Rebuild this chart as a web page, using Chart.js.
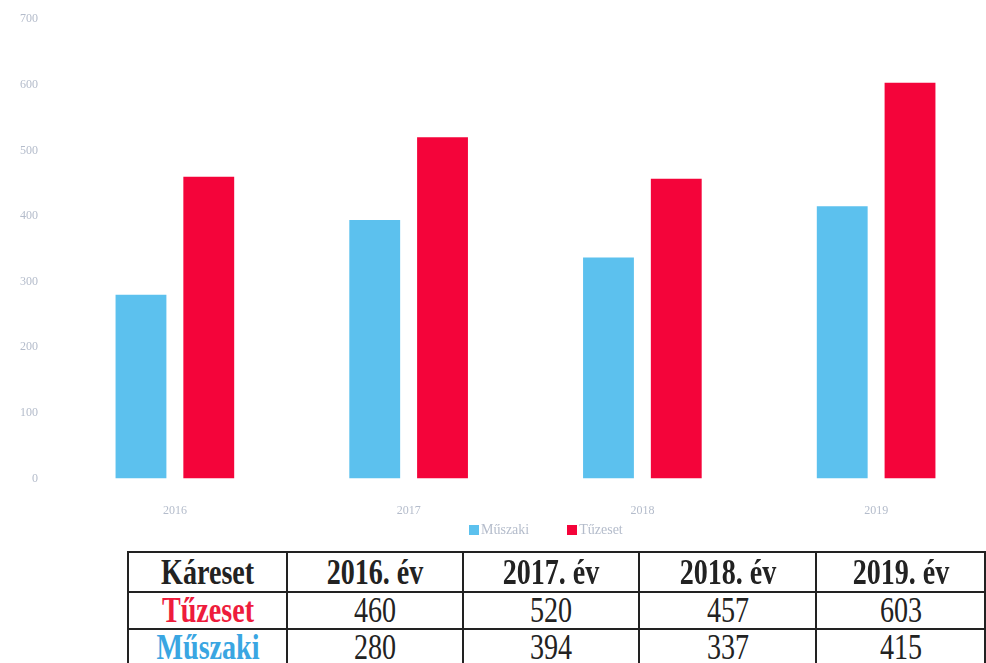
<!DOCTYPE html>
<html>
<head>
<meta charset="utf-8">
<script src="https://cdn.jsdelivr.net/npm/chart.js@4.4.0/dist/chart.umd.min.js"></script>
<style>
    html, body { margin: 0; background: #fff; width: 986px; height: 663px; overflow: hidden; }
    body { position: relative; }
    #chartBox { position: absolute; left: 0; top: 0; width: 993px; height: 535px; }
    #legend { position: absolute; top: 522px; left: 469px; font-family: "Liberation Serif", serif; font-size: 14px; color: #b4bccb; white-space: nowrap; }
    #legend span.item { margin-right: 38px; }
    #legend span.box { display: inline-block; width: 10px; height: 10px; margin-right: 2px; vertical-align: -1px; }
    table { position: absolute; left: 127px; top: 551px; border-collapse: collapse; font-family: "Liberation Serif", serif; }
    td { border: 2px solid #222; height: 35px; padding: 0; text-align: center; font-size: 36px; color: #222; line-height: 33px; overflow: hidden; }
    td span { display: inline-block; transform: scaleX(0.78); }
    tr.head td { font-weight: bold; height: 38px; }
    td.rowhead { font-weight: bold; }
</style>
</head>
<body>
<div id="chartBox"><canvas id="barChart"></canvas></div>
<div id="legend"></div>
<table id="dataTable"></table>
<script>
const years = ['2016', '2017', '2018', '2019'];
const muszaki = [280, 394, 337, 415];
const tuzeset = [460, 520, 457, 603];
const yTicks = [0, 100, 200, 300, 400, 500, 600, 700];

const blue = '#5cc1ee';
const red = '#f4043a';

function buildLegend(chart) {
    const el = document.getElementById('legend');
    el.innerHTML = chart.data.datasets.map(ds =>
        '<span class="item"><span class="box" style="background:' + ds.backgroundColor + '"></span>' + ds.label + '</span>'
    ).join('');
}

function cell(text) {
    return '<td><span>' + text + '</span></td>';
}

function buildTable() {
    const t = document.getElementById('dataTable');
    const widths = [158, 177, 178, 178, 170];
    let html = '<tr class="head"><td style="width:' + widths[0] + 'px"><span>Káreset</span></td>';
    years.forEach((y, i) => { html += '<td style="width:' + widths[i + 1] + 'px"><span>' + y + '. év</span></td>'; });
    html += '</tr><tr><td class="rowhead" style="color:#ee1c3c"><span>Tűzeset</span></td>';
    tuzeset.forEach(v => { html += cell(v); });
    html += '</tr><tr><td class="rowhead" style="color:#3aa6e2"><span>Műszaki</span></td>';
    muszaki.forEach(v => { html += cell(v); });
    html += '</tr>';
    t.innerHTML = html;
}

const ctx = document.getElementById('barChart').getContext('2d');
const chart = new Chart(ctx, {
    type: 'bar',
    data: {
        labels: years,
        datasets: [{
            label: 'Műszaki',
            data: muszaki,
            backgroundColor: blue
        }, {
            label: 'Tűzeset',
            data: tuzeset,
            backgroundColor: red
        }]
    },
    options: {
        responsive: true,
        maintainAspectRatio: false,
        animation: false,
        categoryPercentage: 0.58,
        barPercentage: 0.75,
        layout: { padding: { left: 8, top: 6, right: 0, bottom: 0 } },
        plugins: {
            legend: { display: false },
            tooltip: { enabled: false }
        },
        scales: {
            x: {
                grid: { display: false },
                border: { display: false },
                ticks: {
                    color: '#b4bccb',
                    font: { family: 'Liberation Serif', size: 12 },
                    padding: 17
                }
            },
            y: {
                min: 0,
                max: 700,
                afterBuildTicks: axis => { axis.ticks = yTicks.map(v => ({ value: v })); },
                grid: { display: false },
                border: { display: false },
                ticks: {
                    color: '#b4bccb',
                    font: { family: 'Liberation Serif', size: 12 },
                    padding: 12
                }
            }
        }
    }
});

buildLegend(chart);
buildTable();
</script>
</body>
</html>
